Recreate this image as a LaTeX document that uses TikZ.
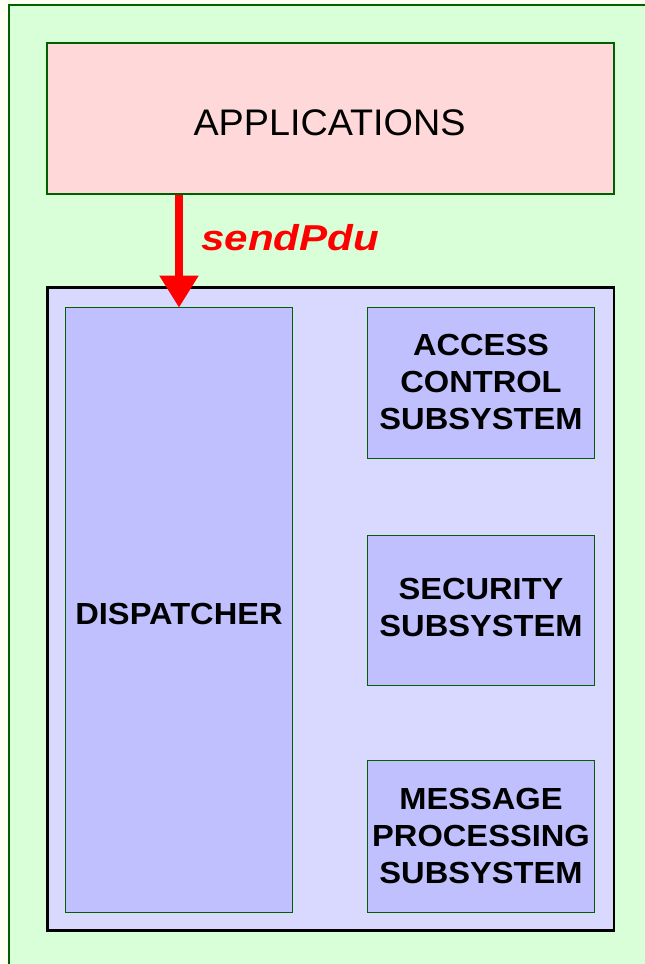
\documentclass[tikz,border=0pt]{standalone}
\usepackage{fontspec}
\setmainfont{Liberation Sans}
\newfontfamily\boxfont[FakeStretch=1.07]{Liberation Sans}
\newfontfamily\appfont[FakeStretch=1.02]{Liberation Sans}
\newfontfamily\sendfont[FakeStretch=1.17]{Liberation Sans}
\usetikzlibrary{arrows.meta,calc}
\definecolor{bggreen}{HTML}{D9FFD9}
\definecolor{dkgreen}{HTML}{006000}
\definecolor{appfill}{HTML}{FFD9D9}
\definecolor{midfill}{HTML}{D9D9FF}
\definecolor{boxfill}{HTML}{C0C0FF}
\definecolor{pagebg}{HTML}{FFFFF4}
\tikzset{
  appbox/.style={draw=dkgreen, line width=2pt, fill=appfill, inner sep=0pt, outer sep=0pt},
  midbox/.style={draw=black, line width=2.7pt, fill=midfill, inner sep=0pt, outer sep=0pt},
  subbox/.style={draw=dkgreen, line width=1pt, fill=boxfill, inner sep=0pt, outer sep=0pt, minimum width=227pt},
  boldlbl/.style={font=\boxfont\fontsize{30.5}{37}\selectfont\bfseries, align=center, inner sep=0pt},
  applbl/.style={font=\appfont\fontsize{37}{44}\selectfont, inner sep=0pt},
  sendlbl/.style={font=\sendfont\fontsize{36}{44}\selectfont\bfseries\itshape, text=red, inner sep=0pt, anchor=base west},
  sendarrow/.style={draw=red, line width=8.7pt, -{Triangle[length=32pt,width=37pt]}, fill=red}
}
\begin{document}
\begin{tikzpicture}[x=1pt,y=-1pt]
\useasboundingbox (0,0) rectangle (645,964);
\clip (0,0) rectangle (645,964);
\fill[pagebg] (0,0) rectangle (645,964);
\draw[dkgreen, line width=2pt, fill=bggreen] (9,5) rectangle (670,990);
\node[appbox, minimum width=567pt, minimum height=150.5pt] (apps) at (330.5,118.25) {};
\node[midbox, minimum width=566.7pt, minimum height=642.8pt] (mid) at (330.65,609.1) {};
\node[subbox, minimum height=604.3pt] (disp) at (179,609.85) {};
\node[subbox, minimum height=150.8pt] (acs) at (481,382.9) {};
\node[subbox, minimum height=150pt] (sec) at (481,610) {};
\node[subbox, minimum height=152pt] (mps) at (481,836) {};
\node[applbl] (applbl) at (329.5,123) {APPLICATIONS};
\node[boldlbl] (displbl) at (179,613.7) {DISPATCHER};
\node[boldlbl] (acslbl) at (481,382.3) {ACCESS\\CONTROL\\SUBSYSTEM};
\node[boldlbl] (seclbl) at (481,607) {SECURITY\\SUBSYSTEM};
\node[boldlbl] (mpslbl) at (481,835.7) {MESSAGE\\PROCESSING\\SUBSYSTEM};
\draw[sendarrow] ($(disp.north |- apps.south)+(0,1)$) -- (disp.north);
\node[sendlbl] (send) at (201,250) {sendPdu};
\end{tikzpicture}
\end{document}
